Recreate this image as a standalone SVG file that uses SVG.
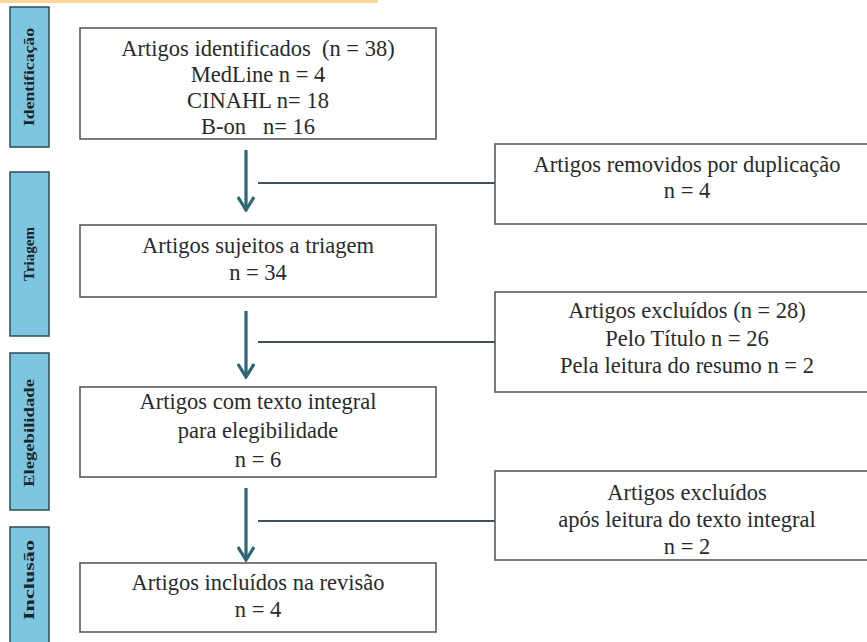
<svg xmlns="http://www.w3.org/2000/svg" width="867" height="642" viewBox="0 0 867 642">
<defs>
<style>
.box{fill:#fff;stroke:#5a5a5a;stroke-width:1.6}
.side{fill:#7cc6e0;stroke:#2f4a58;stroke-width:1.5}
.t{font-family:"Liberation Serif","Times New Roman",serif;font-size:22.5px;fill:#2a2a2a;text-anchor:middle;white-space:pre}
.st{font-family:"Liberation Serif","Times New Roman",serif;font-size:14px;font-weight:bold;fill:#1a252b;text-anchor:middle}
.arr{stroke:#2e6577;stroke-width:3.2;fill:none}
.hl{stroke:#3d5359;stroke-width:2;fill:none}
</style>
<marker id="ah" viewBox="0 0 16 18" refX="14" refY="9" markerWidth="16" markerHeight="18" markerUnits="userSpaceOnUse" orient="auto">
<path d="M1,1 L14,9 L1,17" fill="none" stroke="#2e6577" stroke-width="3.2"/>
</marker>
</defs>
<rect x="0" y="0" width="378" height="3" fill="#fbd89a"/>
<g id="side-identificacao"><rect class="side" x="10" y="7" width="39" height="140"/><text class="st" transform="translate(34,77) rotate(-90)" textLength="98" lengthAdjust="spacingAndGlyphs">Identificação</text></g>
<g id="side-triagem"><rect class="side" x="10" y="172" width="39" height="164"/><text class="st" transform="translate(34,254) rotate(-90)" textLength="54" lengthAdjust="spacingAndGlyphs">Triagem</text></g>
<g id="side-elegebilidade"><rect class="side" x="10" y="353" width="39" height="157"/><text class="st" transform="translate(34,433) rotate(-90)" textLength="108" lengthAdjust="spacingAndGlyphs">Elegebilidade</text></g>
<g id="side-inclusao"><rect class="side" x="10" y="527" width="39" height="125"/><text class="st" transform="translate(34,580) rotate(-90)" textLength="80" lengthAdjust="spacingAndGlyphs">Inclusão</text></g>
<g id="connectors">
<line class="arr" x1="246" y1="150" x2="246" y2="210" marker-end="url(#ah)"/>
<line class="hl" x1="258" y1="183" x2="495" y2="183"/>
<line class="arr" x1="246" y1="311" x2="246" y2="377" marker-end="url(#ah)"/>
<line class="hl" x1="258" y1="342" x2="495" y2="342"/>
<line class="arr" x1="246" y1="488" x2="246" y2="560" marker-end="url(#ah)"/>
<line class="hl" x1="258" y1="521" x2="495" y2="521"/>
</g>
<g id="n-identificados"><rect class="box" x="80" y="28" width="356" height="111"/>
<text class="t" x="258" y="56" xml:space="preserve">Artigos identificados  (n = 38)</text>
<text class="t" x="258" y="82">MedLine n = 4</text>
<text class="t" x="258" y="108">CINAHL n= 18</text>
<text class="t" x="258" y="134" xml:space="preserve">B-on   n= 16</text></g>
<g id="n-triagem"><rect class="box" x="80" y="225" width="356" height="72"/>
<text class="t" x="258" y="253">Artigos sujeitos a triagem</text>
<text class="t" x="258" y="280">n = 34</text></g>
<g id="n-elegibilidade"><rect class="box" x="80" y="387" width="356" height="90"/>
<text class="t" x="258" y="409">Artigos com texto integral</text>
<text class="t" x="258" y="438">para elegibilidade</text>
<text class="t" x="258" y="467">n = 6</text></g>
<g id="n-incluidos"><rect class="box" x="80" y="563" width="356" height="69"/>
<text class="t" x="258" y="590">Artigos incluídos na revisão</text>
<text class="t" x="258" y="617">n = 4</text></g>
<g id="n-duplicacao"><rect class="box" x="495" y="144" width="385" height="80"/>
<text class="t" x="687" y="172">Artigos removidos por duplicação</text>
<text class="t" x="687" y="198">n = 4</text></g>
<g id="n-excluidos1"><rect class="box" x="495" y="292" width="385" height="100"/>
<text class="t" x="687" y="318">Artigos excluídos (n = 28)</text>
<text class="t" x="687" y="346">Pelo Título n = 26</text>
<text class="t" x="687" y="373">Pela leitura do resumo n = 2</text></g>
<g id="n-excluidos2"><rect class="box" x="495" y="471" width="385" height="89"/>
<text class="t" x="687" y="500">Artigos excluídos</text>
<text class="t" x="687" y="527">após leitura do texto integral</text>
<text class="t" x="687" y="554">n = 2</text></g>
</svg>
